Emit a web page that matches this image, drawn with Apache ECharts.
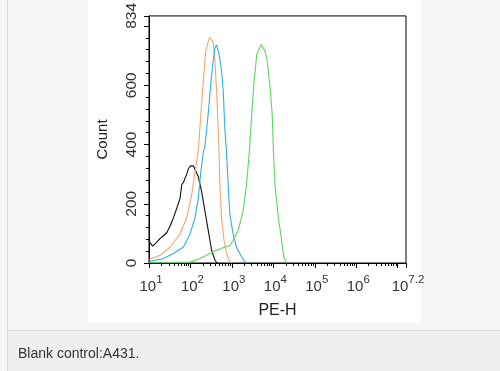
<!DOCTYPE html>
<html><head><meta charset="utf-8">
<script src="https://cdn.jsdelivr.net/npm/echarts@6/dist/echarts.min.js"></script>
<style>html,body{margin:0;padding:0;background:#f5f6f6}#c{width:500px;height:371px}</style>
</head><body><div id="c"></div>
<script>
// x values are log10(PE-H), y values are Count
const xLabelExps = [1, 2, 3, 4, 5, 6, 7.2];
const xMajorTicks = [1, 2, 3, 4, 5, 6, 7, 7.2];
const yLabelValues = [0, 200, 400, 600, 834];

const blackCurve = [[1.00,75],[1.03,68],[1.09,57],[1.17,68],[1.27,83],[1.35,92],[1.43,103],[1.51,125],[1.59,153],[1.67,185],[1.75,219],[1.79,265],[1.83,272],[1.87,277],[1.91,300],[1.95,318],[2.00,328],[2.03,330],[2.07,328],[2.11,322],[2.19,291],[2.27,241],[2.35,175],[2.43,109],[2.51,43],[2.59,10],[2.64,0]];
const orangeCurve = [[1.00,12],[1.03,10],[1.27,26],[1.51,54],[1.75,98],[1.91,153],[2.03,230],[2.11,307],[2.19,380],[2.27,539],[2.33,649],[2.37,716],[2.43,748],[2.47,762],[2.51,754],[2.55,743],[2.59,682],[2.63,583],[2.67,451],[2.69,374],[2.71,263],[2.75,153],[2.81,76],[2.87,32],[2.95,4],[3.00,0]];
const blueCurve = [[1.00,5],[1.35,15],[1.59,32],[1.83,54],[1.99,98],[2.11,153],[2.19,219],[2.25,307],[2.31,374],[2.35,395],[2.43,506],[2.49,605],[2.54,671],[2.59,726],[2.63,737],[2.69,704],[2.75,649],[2.79,583],[2.83,451],[2.87,374],[2.91,263],[2.95,164],[3.03,98],[3.11,54],[3.23,21],[3.31,4],[3.35,0]];
const greenCurve = [[1.00,0],[1.99,3],[2.23,15],[2.47,32],[2.63,43],[2.83,54],[2.95,59],[3.03,76],[3.15,109],[3.27,175],[3.35,263],[3.42,374],[3.48,506],[3.53,605],[3.60,704],[3.70,737],[3.80,716],[3.85,682],[3.92,594],[3.97,506],[4.00,385],[4.04,263],[4.12,153],[4.20,76],[4.25,21],[4.30,4],[4.33,0]];

const xMinorTicks = [];
for (let d = 1; d <= 6; d++) for (let k = 2; k <= 9; k++) xMinorTicks.push(d + Math.log10(k));

const chart = echarts.init(document.getElementById('c'));
const font = 'Liberation Sans, Arial, sans-serif';
function line(name, data, color) {
  return {name, type: 'line', data, showSymbol: false, smooth: false, xAxisIndex: 0,
    lineStyle: {color, width: 1.1}, itemStyle: {color}, z: 3};
}
chart.setOption({
  backgroundColor: '#f5f6f6',
  animation: false,
  graphic: [
    {type: 'rect', z: -10, shape: {x: 88, y: 0, width: 333, height: 323}, style: {fill: '#ffffff'}},
    {type: 'rect', z: -10, shape: {x: 7, y: 330, width: 493, height: 41}, style: {fill: '#eeefef'}},
    {type: 'line', z: -9, shape: {x1: 7.5, y1: 0, x2: 7.5, y2: 371}, style: {stroke: '#dcdddd', lineWidth: 1}},
    {type: 'line', z: -9, shape: {x1: 7, y1: 330.5, x2: 500, y2: 330.5}, style: {stroke: '#dcdddd', lineWidth: 1}},
    {type: 'text', z: 5, left: 18, top: 347, style: {text: 'Blank control:A431.', font: '14px ' + font, fill: '#333333'}}
  ],
  grid: {left: 149, right: 94, top: 9, bottom: 108, show: true, borderColor: '#000', borderWidth: 1, backgroundColor: 'transparent'},
  xAxis: [{
    type: 'value', min: 1, max: 7.2, interval: 1, position: 'bottom',
    name: 'PE-H', nameLocation: 'middle', nameGap: 40,
    nameTextStyle: {fontSize: 16, color: '#222', fontFamily: font},
    axisLine: {show: true, lineStyle: {color: '#000', width: 1}},
    axisTick: {show: true, length: 5, inside: false, customValues: xMajorTicks, lineStyle: {color: '#000'}},
    splitLine: {show: false},
    axisLabel: {
      customValues: xLabelExps, margin: 11, color: '#333', padding: [0, 0, 0, 4],
      formatter: v => '{b|10}{s|' + (Math.abs(v - 7.2) < 1e-6 ? '7.2' : v) + '}',
      rich: {b: {fontSize: 15, fontFamily: font, color: '#333', lineHeight: 20, verticalAlign: 'bottom'},
             s: {fontSize: 11.5, fontFamily: font, color: '#333', verticalAlign: 'top', lineHeight: 12}}
    }
  }, {
    type: 'value', min: 1, max: 7.2, position: 'bottom', gridIndex: 0,
    axisLine: {show: false}, axisLabel: {show: false}, splitLine: {show: false},
    axisTick: {show: true, length: 3, customValues: xMinorTicks, lineStyle: {color: '#000'}}
  }],
  yAxis: {
    type: 'value', min: 0, max: 834, interval: 200,
    name: 'Count', nameLocation: 'middle', nameGap: 39,
    nameTextStyle: {fontSize: 15, color: '#222', fontFamily: font},
    axisLine: {show: true, lineStyle: {color: '#000', width: 1}},
    axisTick: {show: true, length: 5, lineStyle: {color: '#000'}},
    minorTick: {show: true, splitNumber: 5, length: 3, lineStyle: {color: '#000'}},
    splitLine: {show: false}, minorSplitLine: {show: false},
    axisLabel: {customValues: yLabelValues, rotate: 90, margin: 9, fontSize: 15.5, color: '#333', fontFamily: font}
  },
  series: [
    line('Blank control', blackCurve, '#111111'),
    line('Sample A', orangeCurve, '#f2a56f'),
    line('Sample B', blueCurve, '#2fb0e0'),
    line('Sample C', greenCurve, '#5cd65c')
  ]
});
</script></body></html>
